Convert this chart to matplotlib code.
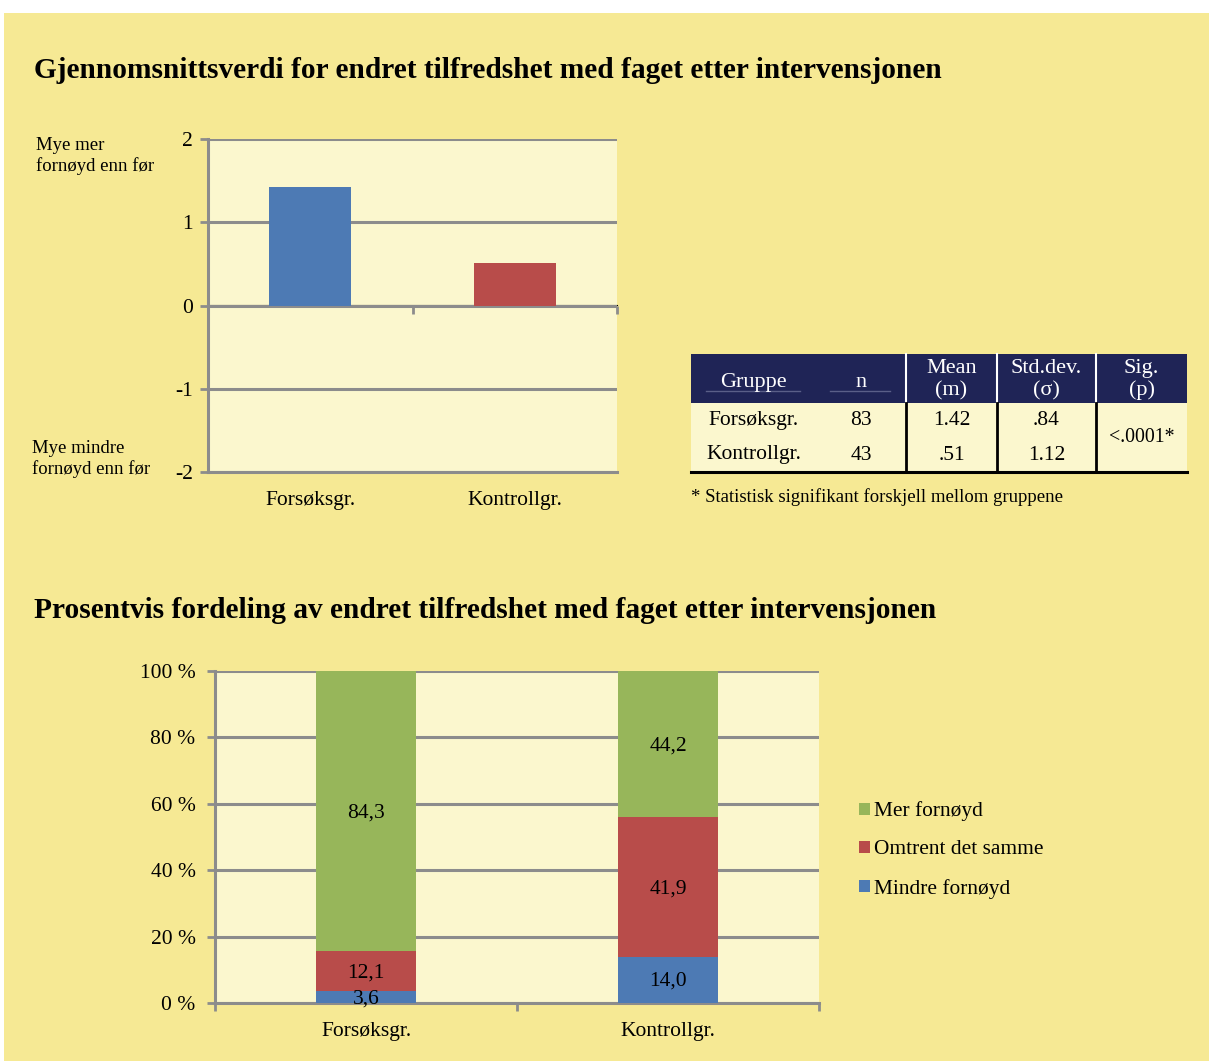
import matplotlib
matplotlib.use("Agg")
import matplotlib.pyplot as plt
from matplotlib.patches import Rectangle
from matplotlib.lines import Line2D
import numpy as np

# ---------------- data ----------------
title_top = "Gjennomsnittsverdi for endret tilfredshet med faget etter intervensjonen"
title_bottom = "Prosentvis fordeling av endret tilfredshet med faget etter intervensjonen"
groups = ["Forsøksgr.", "Kontrollgr."]
mean_change = [1.42, 0.51]
top_yticks = [2, 1, 0, -1, -2]
label_high = "Mye mer\nfornøyd enn før"
label_low = "Mye mindre\nfornøyd enn før"

table_header = ["Gruppe", "n", "Mean\n(m)", "Std.dev.\n(σ)", "Sig.\n(p)"]
table_groups = ["Forsøksgr.", "Kontrollgr."]
table_n = ["83", "43"]
table_mean = ["1.42", ".51"]
table_sd = [".84", "1.12"]
table_sig = "<.0001*"
footnote = "* Statistisk signifikant forskjell mellom gruppene"

series_names = ["Mindre fornøyd", "Omtrent det samme", "Mer fornøyd"]
mindre = [3.6, 14.0]
omtrent = [12.1, 41.9]
mer = [84.3, 44.2]
pct_ticks = [0, 20, 40, 60, 80, 100]

# ---------------- style ----------------
W, H = 1209, 1061
BG = "#F6E994"
PLOT_BG = "#FBF7CE"
GRID = "#8C8C8C"
BLUE = "#4D7AB4"
RED = "#B84C4A"
GREEN = "#97B65A"
NAVY = "#1F2456"
FONT = ["Liberation Serif", "DejaVu Serif"]
plt.rcParams["font.family"] = FONT
FS = 15.5

fig = plt.figure(figsize=(W / 100, H / 100), dpi=100)
fig.patch.set_facecolor("white")

def fx(x):
    return x / W

def fy(y):
    return 1 - y / H

# yellow page background
fig.patches.append(Rectangle((fx(4), 0), 1 - fx(4), fy(13), transform=fig.transFigure,
                             facecolor=BG, edgecolor="none", zorder=-10))

# titles
fig.text(fx(34), fy(71), title_top, fontsize=21.2, fontweight="bold", va="center", ha="left")
fig.text(fx(34), fy(611), title_bottom, fontsize=21.2, fontweight="bold", va="center", ha="left")

# ---------------- top chart ----------------
ax1 = fig.add_axes([fx(208), fy(472), fx(617) - fx(208), (472 - 139) / H])
ax1.set_facecolor(PLOT_BG)
x = np.arange(len(groups)) + 0.5
ax1.bar(x, mean_change, width=0.4, color=[BLUE, RED], zorder=3)
ax1.set_xlim(0, 2)
ax1.set_ylim(-2, 2)
ax1.set_yticks(top_yticks)
ax1.set_yticklabels([str(v) for v in top_yticks])
ax1.yaxis.grid(True, color=GRID, linewidth=2.2, zorder=1)
ax1.set_axisbelow(True)
for s in ["top", "right"]:
    ax1.spines[s].set_visible(False)
ax1.spines["left"].set_color(GRID)
ax1.spines["left"].set_linewidth(2.2)
ax1.spines["bottom"].set_color(GRID)
ax1.spines["bottom"].set_linewidth(2.2)
ax1.tick_params(axis="y", length=6, width=2, color=GRID, labelsize=FS, pad=5)
ax1.set_xticks([])
ax1.set_xticks(x, minor=True)
ax1.set_xticklabels(groups, minor=True)
ax1.tick_params(axis="x", which="minor", length=0, labelsize=FS, pad=14)
# zero axis with category ticks
sec = ax1.secondary_xaxis(0.5)
sec.set_xticks([0, 1, 2])
sec.set_xticklabels([])
sec.xaxis.tick_bottom()
sec.tick_params(length=6, width=2, color=GRID, direction="out")
sec.spines["bottom"].set_color(GRID)
sec.spines["bottom"].set_linewidth(2.2)

fig.text(fx(36), fy(156), label_high, fontsize=13.5, va="center", ha="left", linespacing=1.25)
fig.text(fx(32), fy(459), label_low, fontsize=13.5, va="center", ha="left", linespacing=1.25)

# ---------------- table ----------------
col_edges = [691, 816, 906, 997, 1096, 1187]
y_head_top, y_head_bot, y_mid, y_bot = 354, 403, 437, 472
fig.patches.append(Rectangle((fx(col_edges[0]), fy(y_head_bot)), fx(col_edges[-1]) - fx(col_edges[0]),
                             (y_head_bot - y_head_top) / H, transform=fig.transFigure,
                             facecolor=NAVY, edgecolor="none", zorder=1))
fig.patches.append(Rectangle((fx(col_edges[0]), fy(y_bot)), fx(col_edges[-1]) - fx(col_edges[0]),
                             (y_bot - y_head_bot) / H, transform=fig.transFigure,
                             facecolor=PLOT_BG, edgecolor="none", zorder=1))
for cx in col_edges[2:-1]:
    fig.lines.append(Line2D([fx(cx), fx(cx)], [fy(y_head_bot), fy(y_head_top)], transform=fig.transFigure,
                            color="white", linewidth=1.5, zorder=2))
    fig.lines.append(Line2D([fx(cx), fx(cx)], [fy(y_bot), fy(y_head_bot)], transform=fig.transFigure,
                            color="black", linewidth=2, zorder=2))
fig.lines.append(Line2D([fx(col_edges[0]), fx(col_edges[-1])], [fy(y_bot), fy(y_bot)],
                        transform=fig.transFigure, color="black", linewidth=2.2, zorder=3))
# faint underlines in header
for x0, x1 in [(706, 800), (830, 890)]:
    fig.lines.append(Line2D([fx(x0), fx(x1)], [fy(391), fy(391)], transform=fig.transFigure,
                            color="#5A5F88", linewidth=1, zorder=2))
centers = [(col_edges[i] + col_edges[i + 1]) / 2 for i in range(5)]
for i, h in enumerate(table_header):
    cy = (y_head_top + y_head_bot) / 2 + (4 if "\n" not in h else 1)
    fig.text(fx(centers[i]), fy(cy), h, color="white", fontsize=16, ha="center", va="center",
             linespacing=1.2, zorder=4)
row_y = [421, 455]
for r in range(2):
    vals = [table_groups[r], table_n[r], table_mean[r], table_sd[r]]
    for c, v in enumerate(vals):
        fig.text(fx(centers[c]), fy(row_y[r]), v, fontsize=FS, ha="center", va="center", zorder=4)
fig.text(fx(centers[4]), fy(437), table_sig, fontsize=14.3, ha="center", va="center", zorder=4)
fig.text(fx(691), fy(497), footnote, fontsize=13.5, ha="left", va="center")

# ---------------- bottom chart ----------------
ax2 = fig.add_axes([fx(215), fy(1003), fx(819) - fx(215), (1003 - 671) / H])
ax2.set_facecolor(PLOT_BG)
xb = np.arange(len(groups)) + 0.5
mindre_a = np.array(mindre)
omtrent_a = np.array(omtrent)
mer_a = np.array(mer)
b1 = ax2.bar(xb, mindre_a, width=0.33, color=BLUE, zorder=3, label=series_names[0])
b2 = ax2.bar(xb, omtrent_a, width=0.33, bottom=mindre_a, color=RED, zorder=3, label=series_names[1])
b3 = ax2.bar(xb, mer_a, width=0.33, bottom=mindre_a + omtrent_a, color=GREEN, zorder=3, label=series_names[2])
for bars, vals in [(b1, mindre_a), (b2, omtrent_a), (b3, mer_a)]:
    for rect, v in zip(bars, vals):
        y0 = rect.get_y()
        hgt = min(rect.get_height(), 100 - y0)
        ax2.text(rect.get_x() + rect.get_width() / 2, y0 + hgt / 2 - 0.5, f"{v:.1f}".replace(".", ","),
                 ha="center", va="center", fontsize=FS, zorder=5, clip_on=False)
ax2.set_xlim(0, 2)
ax2.set_ylim(0, 100)
ax2.set_yticks(pct_ticks)
ax2.set_yticklabels([f"{v} %" for v in pct_ticks])
ax2.yaxis.grid(True, color=GRID, linewidth=2.2, zorder=1)
ax2.set_axisbelow(True)
for s in ["top", "right"]:
    ax2.spines[s].set_visible(False)
for s in ["left", "bottom"]:
    ax2.spines[s].set_color(GRID)
    ax2.spines[s].set_linewidth(2.2)
ax2.set_xticks([0, 1, 2])
ax2.set_xticklabels([])
ax2.tick_params(axis="x", which="major", length=6, width=2, color=GRID)
ax2.set_xticks(xb, minor=True)
ax2.set_xticklabels(groups, minor=True)
ax2.tick_params(axis="x", which="minor", length=0, labelsize=FS, pad=14)
ax2.tick_params(axis="y", length=6, width=2, color=GRID, labelsize=FS, pad=8)

handles = [b3, b2, b1]
leg = fig.legend(handles, [series_names[2], series_names[1], series_names[0]],
                 loc="center left", bbox_to_anchor=(fx(840), fy(850)), frameon=False,
                 fontsize=15.4, handlelength=0.5, handleheight=0.5, handletextpad=0.2,
                 labelspacing=0.9)

fig.savefig("out.png", dpi=100, facecolor=fig.get_facecolor())
